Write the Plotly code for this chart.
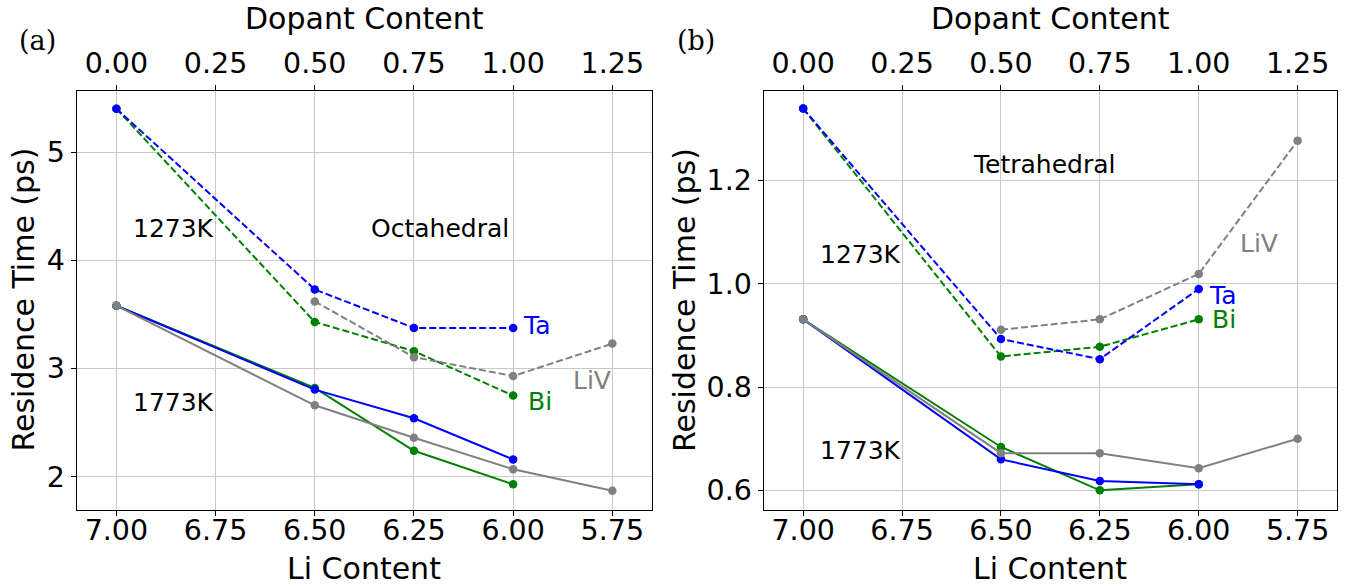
import plotly.graph_objects as go

# ---------------- data ----------------
li_ticks = [7.00, 6.75, 6.50, 6.25, 6.00, 5.75]
li_tick_labels = ["7.00", "6.75", "6.50", "6.25", "6.00", "5.75"]
dopant_tick_labels = ["0.00", "0.25", "0.50", "0.75", "1.00", "1.25"]

li_dopant = [7.0, 6.5, 6.25, 6.0]
li_liv_hot = [7.0, 6.5, 6.25, 6.0, 5.75]
li_liv_cold = [6.5, 6.25, 6.0, 5.75]

# (a) Octahedral
oct_ta_1273 = [5.40, 3.73, 3.375, 3.375]
oct_bi_1273 = [5.40, 3.43, 3.16, 2.75]
oct_liv_1273 = [3.62, 3.105, 2.93, 3.23]
oct_ta_1773 = [3.58, 2.805, 2.54, 2.16]
oct_bi_1773 = [3.58, 2.82, 2.24, 1.93]
oct_liv_1773 = [3.58, 2.66, 2.36, 2.07, 1.87]

# (b) Tetrahedral
tet_ta_1273 = [1.339, 0.893, 0.854, 0.990]
tet_bi_1273 = [1.339, 0.859, 0.878, 0.931]
tet_liv_1273 = [0.911, 0.931, 1.019, 1.277]
tet_ta_1773 = [0.931, 0.660, 0.618, 0.612]
tet_bi_1773 = [0.931, 0.684, 0.600, 0.612]
tet_liv_1773 = [0.931, 0.672, 0.672, 0.643, 0.700]

yticks_a = [2, 3, 4, 5]
yticks_b = [0.6, 0.8, 1.0, 1.2]
yticklabels_b = ["0.6", "0.8", "1.0", "1.2"]

BLUE = "#0000ff"
GREEN = "#008000"
GRAY = "#808080"
FONT = "DejaVu Sans"
TICK_SIZE = 28.5
TITLE_SIZE = 30
NOTE_SIZE = 25

fig = go.Figure()


def add_line(x, y, color, dash, xa, ya):
    fig.add_trace(go.Scatter(
        x=x, y=y, mode="lines+markers", xaxis=xa, yaxis=ya,
        line=dict(color=color, width=2, dash=dash),
        marker=dict(color=color, size=8.5),
        showlegend=False, hoverinfo="skip"))


DASH = "7px,3px"
# panel (a)
add_line(li_dopant, oct_bi_1273, GREEN, DASH, "x", "y")
add_line(li_dopant, oct_ta_1273, BLUE, DASH, "x", "y")
add_line(li_liv_cold, oct_liv_1273, GRAY, DASH, "x", "y")
add_line(li_dopant, oct_bi_1773, GREEN, "solid", "x", "y")
add_line(li_dopant, oct_ta_1773, BLUE, "solid", "x", "y")
add_line(li_liv_hot, oct_liv_1773, GRAY, "solid", "x", "y")
# panel (b)
add_line(li_dopant, tet_bi_1273, GREEN, DASH, "x2", "y2")
add_line(li_dopant, tet_ta_1273, BLUE, DASH, "x2", "y2")
add_line(li_liv_cold, tet_liv_1273, GRAY, DASH, "x2", "y2")
add_line(li_dopant, tet_bi_1773, GREEN, "solid", "x2", "y2")
add_line(li_dopant, tet_ta_1773, BLUE, "solid", "x2", "y2")
add_line(li_liv_hot, tet_liv_1773, GRAY, "solid", "x2", "y2")

XR = [7.1, 5.65]
dom_a = [0.0567, 0.4819]
dom_b = [0.5644, 0.9883]
dom_y = [0.1312, 0.8458]

tickfont = dict(family=FONT, size=TICK_SIZE, color="black")
common_x = dict(range=XR, autorange=False, tickvals=li_ticks, ticktext=li_tick_labels,
                showgrid=True, gridcolor="#c8c8c8", gridwidth=1,
                showline=True, linecolor="black", linewidth=1.2, mirror=True,
                ticks="outside", ticklen=5, tickcolor="black", tickwidth=1,
                tickfont=tickfont, zeroline=False, ticklabelstandoff=-10)
common_top = dict(range=XR, autorange=False, tickvals=li_ticks, ticktext=dopant_tick_labels,
                  showgrid=False, showline=False, side="top",
                  ticks="outside", ticklen=5, tickcolor="black", tickwidth=1,
                  tickfont=tickfont, zeroline=False)
common_y = dict(showgrid=True, gridcolor="#c8c8c8", gridwidth=1,
                showline=True, linecolor="black", linewidth=1.2, mirror=True,
                ticks="outside", ticklen=5, tickcolor="black", tickwidth=1,
                tickfont=tickfont, zeroline=False, autorange=False)

fig.update_layout(
    width=1353, height=587,
    margin=dict(l=0, r=0, t=0, b=0),
    paper_bgcolor="white", plot_bgcolor="white",
    font=dict(family=FONT, color="black"),
    xaxis=dict(domain=dom_a, anchor="y", **common_x),
    xaxis2=dict(domain=dom_b, anchor="y2", **common_x),
    xaxis3=dict(overlaying="x", anchor="y", **common_top),
    xaxis4=dict(overlaying="x2", anchor="y2", **common_top),
    yaxis=dict(domain=dom_y, anchor="x", range=[1.693, 5.568], tickvals=yticks_a,
               ticktext=[str(v) for v in yticks_a], **common_y),
    yaxis2=dict(domain=dom_y, anchor="x2", range=[0.562, 1.374], tickvals=yticks_b,
                ticktext=yticklabels_b, **common_y),
)

# invisible anchors so the top axes are drawn
fig.add_trace(go.Scatter(x=li_ticks, y=[None] * len(li_ticks), xaxis="x3", yaxis="y",
                         mode="markers", showlegend=False, hoverinfo="skip"))
fig.add_trace(go.Scatter(x=li_ticks, y=[None] * len(li_ticks), xaxis="x4", yaxis="y2",
                         mode="markers", showlegend=False, hoverinfo="skip"))


def note(text, x, y, xref, yref, color="black", size=NOTE_SIZE, family=FONT, **kw):
    fig.add_annotation(text=text, x=x, y=y, xref=xref, yref=yref, showarrow=False,
                       font=dict(family=family, size=size, color=color),
                       xanchor="center", yanchor="middle", **kw)


# panel labels / titles (paper pixel positions)
W, H = 1353, 587
for cx in [(76.7 + 652) / 2, (763.6 + 1337.2) / 2]:
    note("Dopant Content", cx / W, 1 - 18 / H, "paper", "paper", size=TITLE_SIZE)
    note("Li Content", cx / W, 1 - 568 / H, "paper", "paper", size=TITLE_SIZE)
note("(a)", 37 / W, 1 - 40 / H, "paper", "paper", size=27, family="DejaVu Serif")
note("(b)", 696 / W, 1 - 40 / H, "paper", "paper", size=27, family="DejaVu Serif")
note("Residence Time (ps)", 22.5 / W, 1 - 300 / H, "paper", "paper", size=TITLE_SIZE, textangle=-90)
note("Residence Time (ps)", 684 / W, 1 - 300 / H, "paper", "paper", size=TITLE_SIZE, textangle=-90)

# panel (a) annotations
note("1273K", 6.857, 4.296, "x", "y")
note("Octahedral", 6.184, 4.296, "x", "y")
note("1773K", 6.857, 2.69, "x", "y")
note("Ta", 5.94, 3.394, "x", "y", color=BLUE)
note("Bi", 5.932, 2.692, "x", "y", color=GREEN)
note("LiV", 5.80, 2.893, "x", "y", color=GRAY)

# panel (b) annotations
note("Tetrahedral", 6.39, 1.230, "x2", "y2")
note("1273K", 6.856, 1.056, "x2", "y2")
note("1773K", 6.856, 0.678, "x2", "y2")
note("LiV", 5.848, 1.077, "x2", "y2", color=GRAY)
note("Ta", 5.939, 0.978, "x2", "y2", color=BLUE)
note("Bi", 5.935, 0.930, "x2", "y2", color=GREEN)

fig.write_html("out.html", config={"displayModeBar": False},
               post_script="document.body.style.margin='0px';")
